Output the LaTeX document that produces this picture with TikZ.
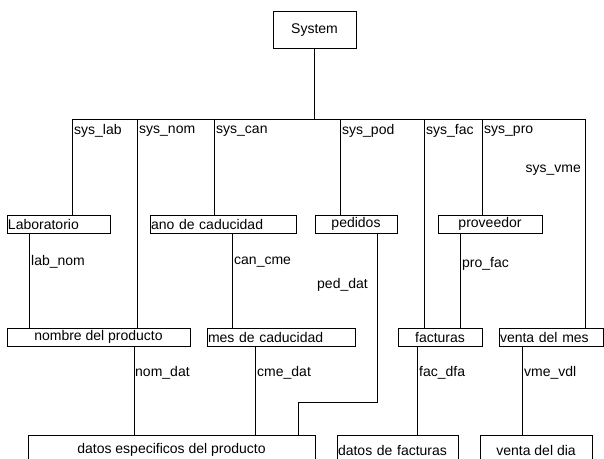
\documentclass[tikz,border=0pt]{standalone}
\usepackage{fontspec}
\setmainfont{Liberation Sans}
\usetikzlibrary{positioning, calc}

\begin{document}
\begin{tikzpicture}[
        x=1pt, y=-1pt,
        every node/.style={font=\fontsize{14}{16}\selectfont},
        ent/.style={rectangle, draw=black, line width=0.6pt, minimum height=18pt, inner sep=1pt},
        entl/.style={ent, text width=#1, align=left},
        link/.style={draw=black, line width=0.6pt},
        lbl/.style={anchor=west, inner sep=1pt}
    ]
        \useasboundingbox (0,0) rectangle (604,458);
        \clip (0,0) rectangle (604,458);

        % --- NODES ---
        \node[ent, minimum width=83pt, minimum height=37pt] (sys) at (314.5,30) {System};

        \node[entl=101pt] (lab) at (58.5,224) {Laboratorio};
        \node[entl=144pt] (ano) at (223,224) {ano de caducidad};
        \node[ent, minimum width=82pt] (ped) at (356,224) {pedidos};
        \node[ent, minimum width=104pt] (pro) at (490,224) {proveedor};

        \node[ent, minimum width=183pt] (nom) at (98.5,337) {nombre del producto};
        \node[entl=146pt] (mes) at (281,337) {mes de caducidad};
        \node[ent, minimum width=84pt] (fac) at (440,337) {facturas};
        \node[entl=102pt] (vme) at (551,337) {venta del mes};

        \node[ent, anchor=north, minimum width=287pt, minimum height=30pt] (dat) at (171.5,435) {datos especificos del producto};
        \node[entl=119pt, anchor=north, minimum height=30pt] (dfa) at (397.5,435) {datos de facturas};
        \node[ent, anchor=north, minimum width=112pt, minimum height=30pt] (vdi) at (536,435) {venta del dia};

        % --- BAR UNDER SYSTEM ---
        \coordinate (b1) at (72,119);
        \coordinate (b2) at (137,119);
        \coordinate (b3) at (214,119);
        \coordinate (b4) at (340,119);
        \coordinate (b5) at (424,119);
        \coordinate (b6) at (482,119);
        \coordinate (b7) at (585,119);

        % x of the lower links
        \coordinate (ln) at (29,0);
        \coordinate (cc) at (232,0);
        \coordinate (pf) at (460,0);
        \coordinate (nd) at (134,0);
        \coordinate (cd) at (255,0);
        \coordinate (fd) at (417,0);
        \coordinate (vv) at (522,0);
        \coordinate (pd1) at (377,402);
        \coordinate (pd2) at (298,402);

        % --- CONNECTIONS ---
        \draw[link] (sys.south) -- (sys.south |- b1);
        \draw[link] (b1) -- (b7);
        \draw[link] (b1) -- (b1 |- lab.north);
        \draw[link] (b2) -- (b2 |- nom.north);
        \draw[link] (b3) -- (b3 |- ano.north);
        \draw[link] (b4) -- (b4 |- ped.north);
        \draw[link] (b5) -- (b5 |- fac.north);
        \draw[link] (b6) -- (b6 |- pro.north);
        \draw[link] (b7) -- (b7 |- vme.north);

        \draw[link] (ln |- lab.south) -- (ln |- nom.north);
        \draw[link] (cc |- ano.south) -- (cc |- mes.north);
        \draw[link] (pd1 |- ped.south) -- (pd1) -- (pd2) -- (pd2 |- dat.north);
        \draw[link] (pf |- pro.south) -- (pf |- fac.north);
        \draw[link] (nd |- nom.south) -- (nd |- dat.north);
        \draw[link] (cd |- mes.south) -- (cd |- dat.north);
        \draw[link] (fd |- fac.south) -- (fd |- dfa.north);
        \draw[link] (vv |- vme.south) -- (vv |- vdi.north);

        % --- LABELS ---
        \node[lbl] (l_lab) at (73,131) {sys\_lab};
        \node[lbl] (l_nom) at (138,131) {sys\_nom};
        \node[lbl] (l_can) at (215,131) {sys\_can};
        \node[lbl] (l_pod) at (341,131) {sys\_pod};
        \node[lbl] (l_fac) at (425,131) {sys\_fac};
        \node[lbl] (l_pro) at (483,131) {sys\_pro};
        \node[lbl, anchor=east] (l_vme) at (582,170) {sys\_vme};
        \node[lbl] (l_labnom) at (30,262) {lab\_nom};
        \node[lbl] (l_cancme) at (233,262) {can\_cme};
        \node[lbl, anchor=east] (l_peddat) at (369,285) {ped\_dat};
        \node[lbl] (l_profac) at (461,264) {pro\_fac};
        \node[lbl] (l_nomdat) at (134,373) {nom\_dat};
        \node[lbl] (l_cmedat) at (256,373) {cme\_dat};
        \node[lbl] (l_facdfa) at (418,373) {fac\_dfa};
        \node[lbl] (l_vmevdl) at (523,373) {vme\_vdl};

    \end{tikzpicture}
\end{document}
